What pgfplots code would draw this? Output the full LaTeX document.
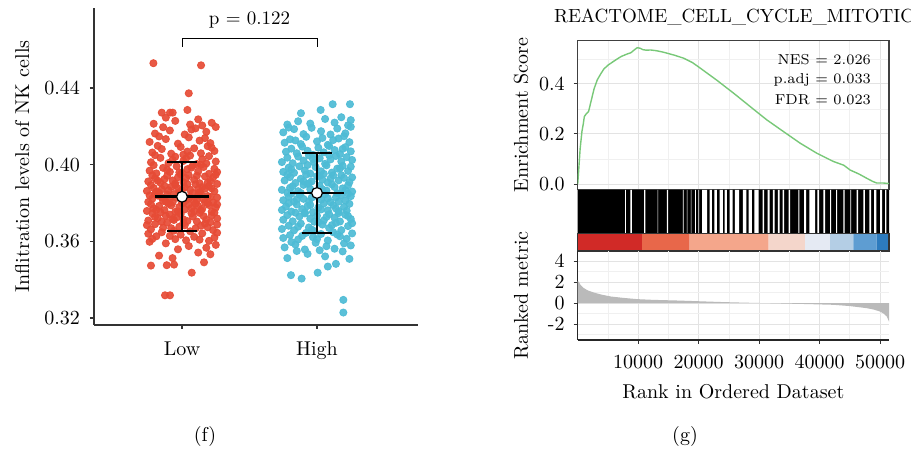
\documentclass[border=0pt]{standalone}
\usepackage{pgfplots}
\usepackage{pgfplotstable}
\pgfplotsset{compat=1.18}
\definecolor{cLow}{HTML}{E64B35}
\definecolor{cHigh}{HTML}{4DBBD5}
\definecolor{esgreen}{HTML}{78C878}
\definecolor{gridc}{HTML}{E3E3E3}
\definecolor{gridm}{HTML}{F0F0F0}
\definecolor{s1}{HTML}{D12A27}
\definecolor{s2}{HTML}{E8674A}
\definecolor{s3}{HTML}{F4A68B}
\definecolor{s4}{HTML}{F4D6CB}
\definecolor{s5}{HTML}{E5EAF3}
\definecolor{s6}{HTML}{B4CEE5}
\definecolor{s7}{HTML}{5E9DD2}
\definecolor{s8}{HTML}{2D7BBE}

\pgfplotstableread{
x y
0.83 0.3525
1.12 0.3541
0.97 0.3558
1.21 0.3532
0.88 0.3589
1.05 0.3575
0.76 0.3597
1.18 0.3566
0.93 0.3512
1.25 0.3581
0.78 0.3612
0.91 0.3628
1.03 0.3605
1.15 0.3641
1.24 0.3619
0.85 0.3647
0.99 0.3634
1.09 0.3623
1.20 0.3602
0.75 0.3639
0.95 0.3611
1.13 0.3608
0.81 0.3626
1.26 0.3644
0.77 0.3662
0.86 0.3671
0.94 0.3655
1.02 0.3683
1.10 0.3667
1.17 0.3692
1.23 0.3658
0.80 0.3689
0.89 0.3697
0.98 0.3676
1.06 0.3652
1.14 0.3681
1.21 0.3699
0.74 0.3684
0.92 0.3668
1.01 0.3694
1.19 0.3673
1.26 0.3687
0.75 0.3708
0.82 0.3721
0.88 0.3733
0.93 0.3716
0.99 0.3742
1.04 0.3705
1.08 0.3729
1.13 0.3748
1.18 0.3712
1.22 0.3736
1.26 0.3719
0.78 0.3745
0.85 0.3702
0.91 0.3739
0.96 0.3724
1.01 0.3714
1.07 0.3746
1.11 0.3703
1.16 0.3731
1.24 0.3749
0.80 0.3727
0.94 0.3711
0.74 0.3758
0.79 0.3771
0.83 0.3784
0.87 0.3762
0.90 0.3795
0.95 0.3753
0.98 0.3779
1.02 0.3766
1.05 0.3791
1.09 0.3757
1.12 0.3783
1.15 0.3769
1.19 0.3798
1.22 0.3754
1.25 0.3776
0.77 0.3793
0.84 0.3751
0.92 0.3787
1.00 0.3799
1.07 0.3773
1.14 0.3761
1.20 0.3789
0.81 0.3764
0.97 0.3756
1.10 0.3796
1.26 0.3792
0.75 0.3805
0.78 0.3822
0.82 0.3838
0.86 0.3811
0.89 0.3844
0.93 0.3803
0.96 0.3827
0.99 0.3849
1.03 0.3815
1.06 0.3833
1.09 0.3808
1.12 0.3841
1.16 0.3819
1.19 0.3836
1.23 0.3802
1.26 0.3828
0.80 0.3847
0.85 0.3829
0.91 0.3817
0.94 0.3846
1.01 0.3801
1.05 0.3824
1.11 0.3813
1.14 0.3848
1.21 0.3831
0.76 0.3839
0.88 0.3806
1.17 0.3804
0.74 0.3862
0.79 0.3878
0.83 0.3853
0.87 0.3889
0.90 0.3866
0.95 0.3894
0.98 0.3857
1.02 0.3881
1.06 0.3869
1.10 0.3897
1.13 0.3855
1.17 0.3874
1.20 0.3887
1.24 0.3861
0.77 0.3893
0.85 0.3871
0.92 0.3884
1.00 0.3867
1.04 0.3898
1.08 0.3852
1.15 0.3883
1.22 0.3876
1.26 0.3899
0.81 0.3859
0.97 0.3876
1.12 0.3872
0.75 0.3912
0.80 0.3928
0.84 0.3905
0.89 0.3941
0.93 0.3917
0.97 0.3934
1.01 0.3908
1.05 0.3945
1.09 0.3921
1.13 0.3903
1.17 0.3938
1.21 0.3915
1.25 0.3947
0.78 0.3944
0.87 0.3924
0.95 0.3901
1.03 0.3929
1.11 0.3942
1.19 0.3906
1.23 0.3932
0.82 0.3916
0.99 0.3949
0.76 0.3968
0.81 0.3954
0.86 0.3983
0.91 0.3962
0.96 0.3991
1.00 0.3957
1.04 0.3976
1.08 0.3995
1.12 0.3964
1.16 0.3987
1.20 0.3952
1.24 0.3978
0.79 0.3997
0.89 0.3972
0.98 0.3959
1.07 0.3984
1.14 0.3999
1.26 0.3961
0.77 0.4012
0.84 0.4035
0.90 0.4008
0.95 0.4041
1.01 0.4019
1.06 0.4047
1.11 0.4003
1.15 0.4028
1.20 0.4044
1.25 0.4016
0.80 0.4049
0.93 0.4025
1.03 0.4032
1.18 0.4006
0.78 0.4063
0.85 0.4081
0.92 0.4057
0.99 0.4092
1.04 0.4068
1.09 0.4085
1.14 0.4059
1.19 0.4096
1.24 0.4071
0.82 0.4098
1.01 0.4052
1.22 0.4088
0.76 0.4118
0.88 0.4133
0.97 0.4109
1.05 0.4142
1.13 0.4125
1.21 0.4112
0.83 0.4147
1.17 0.4138
0.80 0.4162
0.91 0.4178
1.02 0.4157
1.10 0.4189
1.18 0.4171
1.25 0.4196
0.86 0.4195
1.07 0.4183
0.79 0.4213
0.95 0.4228
1.06 0.4209
1.12 0.4236
1.22 0.4218
0.88 0.4245
1.15 0.4204
0.788 0.4529
1.141 0.4518
1.05 0.4372
1.04 0.4285
0.85 0.4271
0.911 0.4271
0.931 0.4271
0.874 0.3318
0.911 0.3318
1.072 0.3436
0.77 0.3473
0.887 0.3475
0.941 0.3478
1.163 0.3490
}\lowdata

\pgfplotstableread{
x y
1.78 0.3512
1.93 0.3534
2.06 0.3521
2.19 0.3547
2.24 0.3508
1.85 0.3549
1.76 0.3568
1.84 0.3583
1.91 0.3557
1.99 0.3592
2.07 0.3574
2.13 0.3561
2.20 0.3589
2.25 0.3578
1.81 0.3596
2.02 0.3553
1.75 0.3617
1.80 0.3632
1.86 0.3609
1.92 0.3644
1.97 0.3621
2.03 0.3638
2.08 0.3604
2.12 0.3647
2.17 0.3626
2.22 0.3613
2.26 0.3641
1.89 0.3628
2.00 0.3611
2.15 0.3635
1.74 0.3664
1.79 0.3681
1.83 0.3657
1.88 0.3692
1.94 0.3672
1.98 0.3653
2.04 0.3687
2.09 0.3669
2.14 0.3696
2.18 0.3658
2.23 0.3679
2.26 0.3694
1.86 0.3676
2.01 0.3699
2.11 0.3684
1.96 0.3661
1.75 0.3712
1.78 0.3736
1.82 0.3704
1.87 0.3729
1.91 0.3745
1.95 0.3718
2.00 0.3733
2.05 0.3708
2.09 0.3741
2.13 0.3722
2.17 0.3703
2.21 0.3738
2.25 0.3716
1.84 0.3749
1.98 0.3702
2.07 0.3727
2.16 0.3747
2.23 0.3731
1.74 0.3763
1.77 0.3781
1.81 0.3755
1.85 0.3792
1.89 0.3768
1.93 0.3784
1.97 0.3752
2.01 0.3776
2.05 0.3797
2.08 0.3761
2.12 0.3788
2.16 0.3757
2.20 0.3779
2.24 0.3795
1.79 0.3799
1.91 0.3751
2.03 0.3766
2.14 0.3771
2.22 0.3759
1.95 0.3789
1.75 0.3814
1.79 0.3832
1.83 0.3806
1.87 0.3843
1.90 0.3821
1.94 0.3809
1.99 0.3838
2.03 0.3817
2.06 0.3846
2.10 0.3803
2.14 0.3829
2.18 0.3841
2.21 0.3812
2.25 0.3835
1.81 0.3849
1.96 0.3827
2.08 0.3824
2.16 0.3807
2.23 0.3848
1.85 0.3819
1.74 0.3868
1.78 0.3853
1.82 0.3887
1.86 0.3861
1.90 0.3894
1.95 0.3872
1.98 0.3856
2.02 0.3889
2.07 0.3864
2.11 0.3897
2.15 0.3851
2.19 0.3876
2.23 0.3892
2.26 0.3859
1.80 0.3879
1.93 0.3899
2.04 0.3871
2.13 0.3883
2.21 0.3866
1.88 0.3852
1.76 0.3917
1.80 0.3935
1.84 0.3904
1.88 0.3926
1.92 0.3948
1.96 0.3912
2.00 0.3939
2.04 0.3921
2.08 0.3906
2.12 0.3944
2.16 0.3918
2.20 0.3931
2.24 0.3909
1.78 0.3947
1.90 0.3913
2.02 0.3941
2.10 0.3927
2.18 0.3945
2.26 0.3933
1.94 0.3902
1.75 0.3962
1.79 0.3984
1.83 0.3957
1.87 0.3991
1.91 0.3969
1.95 0.3953
1.99 0.3987
2.03 0.3965
2.07 0.3996
2.11 0.3958
2.15 0.3979
2.19 0.3993
2.23 0.3967
1.81 0.3975
1.93 0.3998
2.05 0.3952
2.17 0.3981
2.25 0.3989
1.74 0.4013
1.78 0.4036
1.82 0.4007
1.86 0.4042
1.90 0.4021
1.94 0.4048
1.98 0.4011
2.02 0.4033
2.06 0.4004
2.10 0.4027
2.14 0.4045
2.18 0.4016
2.22 0.4039
2.26 0.4024
1.97 0.4029
2.09 0.4049
1.77 0.4067
1.81 0.4083
1.85 0.4059
1.89 0.4094
1.93 0.4072
1.97 0.4051
2.01 0.4088
2.05 0.4064
2.09 0.4097
2.13 0.4076
2.17 0.4055
2.21 0.4091
2.25 0.4069
2.19 0.4082
1.76 0.4114
1.80 0.4132
1.88 0.4107
1.92 0.4145
2.00 0.4121
2.04 0.4139
2.08 0.4103
2.12 0.4128
2.20 0.4148
2.24 0.4117
1.84 0.4126
2.16 0.4136
1.75 0.4168
1.83 0.4185
1.90 0.4159
1.96 0.4192
2.03 0.4174
2.10 0.4157
2.15 0.4188
2.21 0.4163
2.25 0.4197
1.79 0.4193
1.78 0.4209
1.86 0.4226
1.95 0.4214
2.06 0.4238
2.13 0.4219
2.18 0.4247
2.23 0.4205
2.25 0.4232
2.116 0.4315
2.244 0.4315
2.027 0.4285
1.881 0.4268
2.195 0.3294
2.195 0.3228
1.807 0.3423
1.886 0.3405
2.005 0.3436
2.08 0.3468
2.14 0.3482
}\highdata

\pgfplotstableread{
x y
0 0
150 0.05
400 0.14
700 0.21
920 0.24
1100 0.27
1400 0.28
1800 0.29
2200 0.33
2700 0.38
3230 0.416
3800 0.44
4330 0.46
5000 0.475
5600 0.485
6530 0.50
7200 0.51
7700 0.515
8190 0.52
8800 0.525
9300 0.535
9830 0.545
10300 0.543
10800 0.537
11400 0.535
12040 0.536
13000 0.533
14000 0.528
14790 0.523
16000 0.515
17520 0.503
19000 0.485
20280 0.463
23000 0.415
25780 0.363
28500 0.31
31290 0.256
34000 0.21
36790 0.163
39540 0.123
42280 0.09
44000 0.075
45030 0.056
46500 0.04
47780 0.023
48800 0.01
49440 0.004
50500 0.004
51470 0.002
}\esdata

\pgfplotstableread{
x y
0 2.1
200 2.0
500 1.7
1000 1.43
1700 1.2
2700 1.0
4000 0.8
5500 0.63
7500 0.5
9800 0.38
12500 0.31
16400 0.25
20000 0.18
24000 0.1
28000 0.04
31000 0
34000 -0.04
38000 -0.09
42300 -0.16
45000 -0.28
47800 -0.48
49000 -0.62
50000 -0.8
50600 -1.0
51100 -1.27
51470 -1.75
}\rankdata

\pgfplotsset{
  leftgeom/.style={
    at={(47pt,-4pt)}, anchor=north west, scale only axis,
    width=162pt, height=158.5pt,
    xmin=0.348, xmax=2.748, ymin=0.3163, ymax=0.4817,
  }
}

\begin{document}
\begin{tikzpicture}
\useasboundingbox (0,0) rectangle (455.5pt,-224.5pt);

% ---------- (f) ----------
\begin{axis}[
  leftgeom,
  axis x line*=bottom, axis y line*=left,
  axis line style={black!80, line width=0.6pt},
  xtick={1,2}, xticklabels={Low,High},
  ytick={0.32,0.36,0.40,0.44}, yticklabels={0.32,0.36,0.40,0.44},
  tick align=outside, major tick length=2pt,
  tick style={black!80, line width=0.6pt},
  xticklabel style={yshift=-3pt},
  yticklabel style={xshift=-1.5pt},
  ylabel={Inflitration levels of NK cells},
  ylabel style={at={(axis description cs:-0.222,0.5)}, anchor=center},
  clip=false,
]
\addplot[only marks, mark=*, color=cLow, mark size=1.8pt, opacity=0.92] table {\lowdata};
\addplot[only marks, mark=*, color=cHigh, mark size=1.8pt, opacity=0.92] table {\highdata};
% bracket
\addplot[black, line width=0.5pt] coordinates {(1,0.4614) (1,0.4656) (2,0.4656) (2,0.4614)};
\node[font=\fontsize{9.5}{11}\selectfont] at (axis cs:1.5,0.4755) {p = 0.122};
\end{axis}

% overlay: mean and error bars
\begin{axis}[leftgeom, hide axis, clip=false]
\addplot[black, line width=0.7pt] coordinates {(1,0.3654) (1,0.4014)};
\addplot[black, line width=0.7pt] coordinates {(0.89,0.4014) (1.11,0.4014)};
\addplot[black, line width=0.7pt] coordinates {(0.89,0.3654) (1.11,0.3654)};
\addplot[black, line width=1.4pt] coordinates {(0.8,0.3832) (1.2,0.3832)};
\addplot[black, line width=0.7pt] coordinates {(2,0.3643) (2,0.4061)};
\addplot[black, line width=0.7pt] coordinates {(1.89,0.4061) (2.11,0.4061)};
\addplot[black, line width=0.7pt] coordinates {(1.89,0.3643) (2.11,0.3643)};
\addplot[black, line width=1.4pt] coordinates {(1.8,0.3852) (2.2,0.3852)};
\end{axis}
\begin{axis}[leftgeom, hide axis, clip=false]
\addplot[only marks, mark=*, mark size=2.7pt, mark options={draw=black, fill=white, line width=0.6pt}] coordinates {(1,0.3832) (2,0.3852)};
\end{axis}

% ---------- (g) enrichment score ----------
\begin{axis}[
  at={(288.85pt,-20.35pt)}, anchor=north west, scale only axis,
  width=155.65pt, height=74.4pt,
  xmin=0, xmax=51470, ymin=-0.022, ymax=0.573,
  xtick={0,10000,20000,30000,40000,50000}, xticklabels={},
  minor xtick={5000,15000,25000,35000,45000},
  ytick={0,0.2,0.4}, yticklabels={0.0,0.2,0.4},
  minor ytick={0.1,0.3,0.5},
  ytick pos=left,
  grid=both,
  major grid style={gridc, line width=0.5pt},
  minor grid style={gridm, line width=0.4pt},
  xtick style={draw=none},
  ytick style={black!80, line width=0.5pt},
  tick align=outside, major tick length=2pt, minor tick length=0pt,
  axis line style={black!75, line width=0.6pt},
  yticklabel style={xshift=-1pt},
  ylabel={Enrichment Score},
  ylabel style={at={(axis description cs:-0.182,0.5)}, anchor=center},
]
\addplot[esgreen, line width=0.7pt] table {\esdata};
\node[anchor=east, font=\fontsize{7.2}{8.6}\selectfont] at (axis cs:49650,0.496) {NES = 2.026};
\node[anchor=east, font=\fontsize{7.2}{8.6}\selectfont] at (axis cs:49650,0.416) {p.adj = 0.033};
\node[anchor=east, font=\fontsize{7.2}{8.6}\selectfont] at (axis cs:49650,0.336) {FDR = 0.023};
\end{axis}

% ---------- barcode ----------
\begin{axis}[
  at={(288.85pt,-95pt)}, anchor=north west, scale only axis,
  width=155.65pt, height=21.65pt,
  xmin=0, xmax=51470, ymin=0, ymax=1,
  hide axis,
]
\addplot[fill=black, draw=none] coordinates {(0,0) (0,1) (51470,1) (51470,0)} \closedcycle;
\addplot[const plot, fill=white, draw=none] coordinates {
(7850,1) (7950,0) (8700,1) (8950,0) (11000,1) (11200,0) (13200,1) (13300,0)
(14750,1) (14950,0) (17380,1) (17520,0) (18050,1) (18150,0) (18700,1) (18800,0)
(19420,1) (19520,0) (19950,1) (20080,0) (20560,1) (21380,0) (21820,1) (22200,0)
(22590,1) (23030,0) (23470,1) (24020,0) (24300,1) (24680,0) (25120,1) (25620,0)
(26000,1) (26700,0) (27320,1) (27870,0) (28260,1) (28810,0) (29190,1) (29910,0)
(30570,1) (30840,0) (31390,1) (31720,0) (32270,1) (32550,0) (33100,1) (33370,0)
(33870,1) (34140,0) (34860,1) (35130,0) (36500,1) (36650,0) (37440,1) (37770,0)
(38320,1) (39260,0) (39640,1) (39900,0) (40630,1) (40910,0) (41730,1) (41900,0)
(42720,1) (42900,0) (43930,1) (44150,0) (45100,1) (45200,0) (46130,1) (46380,0)
(47230,1) (47480,0) (48220,1) (48500,0) (48990,1) (49380,0) (49980,1) (50350,0)
(50810,1) (51050,0)} \closedcycle;
\end{axis}

% ---------- colour strip ----------
\begin{axis}[
  at={(288.85pt,-116.65pt)}, anchor=north west, scale only axis,
  width=155.65pt, height=8.85pt,
  xmin=0, xmax=51470, ymin=0, ymax=1,
  xtick=\empty, ytick=\empty,
  axis line style={black!80, line width=0.6pt},
  axis on top,
]
\addplot[fill=s1, draw=none] coordinates {(0,0) (0,1) (10660,1) (10660,0)} \closedcycle;
\addplot[fill=s2, draw=none] coordinates {(10660,0) (10660,1) (18500,1) (18500,0)} \closedcycle;
\addplot[fill=s3, draw=none] coordinates {(18500,0) (18500,1) (31550,1) (31550,0)} \closedcycle;
\addplot[fill=s4, draw=none] coordinates {(31550,0) (31550,1) (37600,1) (37600,0)} \closedcycle;
\addplot[fill=s5, draw=none] coordinates {(37600,0) (37600,1) (41730,1) (41730,0)} \closedcycle;
\addplot[fill=s6, draw=none] coordinates {(41730,0) (41730,1) (45580,1) (45580,0)} \closedcycle;
\addplot[fill=s7, draw=none] coordinates {(45580,0) (45580,1) (49440,1) (49440,0)} \closedcycle;
\addplot[fill=s8, draw=none] coordinates {(49440,0) (49440,1) (51470,1) (51470,0)} \closedcycle;
\end{axis}

% ---------- ranked metric ----------
\begin{axis}[
  at={(288.85pt,-125.5pt)}, anchor=north west, scale only axis,
  width=155.65pt, height=44.5pt,
  xmin=0, xmax=51470, ymin=-3.5, ymax=4.95,
  axis x line*=bottom, axis y line*=left,
  axis line style={black!85, line width=0.6pt},
  scaled x ticks=false,
  xtick={10000,20000,30000,40000,50000},
  xticklabels={10000,20000,30000,40000,50000},
  minor xtick={5000,15000,25000,35000,45000},
  ytick={-2,0,2,4}, yticklabels={-2,0,2,4},
  minor ytick={-3,-1,1,3},
  grid=both,
  major grid style={gridc, line width=0.5pt},
  minor grid style={gridm, line width=0.4pt},
  tick align=outside, major tick length=2pt, minor tick length=0pt,
  tick style={black!80, line width=0.5pt},
  xticklabel style={yshift=-2pt},
  yticklabel style={xshift=-1pt},
  xlabel={Rank in Ordered Dataset},
  xlabel style={at={(axis description cs:0.5,-0.584)}, anchor=center},
  ylabel={Ranked metric},
  ylabel style={at={(axis description cs:-0.182,0.5)}, anchor=center},
]
\addplot[fill=black!27, draw=none] table {\rankdata} \closedcycle;
\end{axis}

\node[font=\fontsize{9.5}{11}\selectfont] at (367pt,-8.5pt) {REACTOME\_CELL\_CYCLE\_MITOTIC};
\node at (102.5pt,-218pt) {(f)};
\node at (342.5pt,-218pt) {(g)};
\end{tikzpicture}
\end{document}
